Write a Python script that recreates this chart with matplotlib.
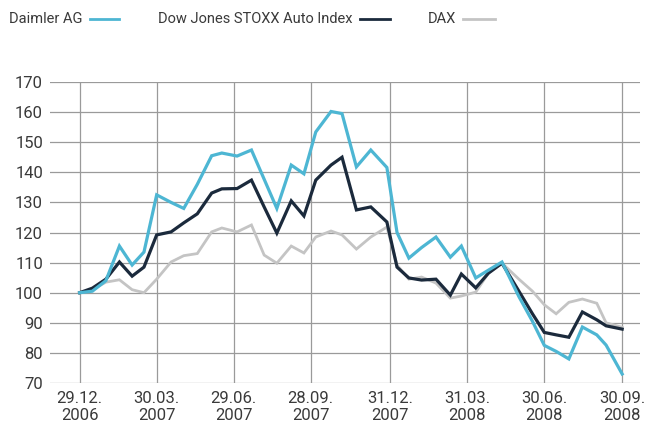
import matplotlib
matplotlib.use("Agg")
import matplotlib.pyplot as plt
from matplotlib.lines import Line2D
import pandas as pd

dates = ["2006-12-29", "2007-01-13", "2007-01-29", "2007-02-14", "2007-03-01",
         "2007-03-15", "2007-03-30", "2007-04-16", "2007-05-01", "2007-05-17",
         "2007-06-03", "2007-06-15", "2007-07-03", "2007-07-20", "2007-08-04",
         "2007-08-19", "2007-09-05", "2007-09-20", "2007-10-04", "2007-10-22",
         "2007-11-04", "2007-11-21", "2007-12-08", "2007-12-27", "2008-01-08",
         "2008-01-22", "2008-02-06", "2008-02-23", "2008-03-11", "2008-03-24",
         "2008-04-10", "2008-04-25", "2008-05-11", "2008-05-31", "2008-06-16",
         "2008-06-30", "2008-07-14", "2008-07-29", "2008-08-14", "2008-08-31",
         "2008-09-11", "2008-09-30"]

daimler = [100, 100.5, 104, 115.5, 109.2, 113.5, 132.5, 130, 128, 136,
           145.5, 146.4, 145.4, 147.4, 137.7, 128, 142.4, 139.5, 153.4, 160.2,
           159.5, 141.8, 147.4, 141.6, 120, 111.5, 115, 118.5, 111.8, 115.5,
           104.9, 107.5, 110.2, 98.7, 90.5, 82.5, 80.5, 78, 88.6, 86,
           82.6, 73]

stoxx = [100, 101.5, 104.5, 110.2, 105.5, 108.5, 119.2, 120.2, 123.2, 126.2,
         133.1, 134.5, 134.6, 137.4, 128.5, 119.8, 130.5, 125.5, 137.4, 142.4,
         145, 127.5, 128.5, 123.5, 108.5, 104.9, 104.2, 104.5, 99.2, 106.2,
         101.6, 106.5, 109.8, 100.5, 93, 86.8, 86, 85.2, 93.6, 91,
         89, 87.9]

dax = [100, 101, 103.5, 104.3, 101, 100, 104.5, 110.2, 112.3, 113,
       120.2, 121.5, 120.2, 122.5, 112.5, 109.8, 115.5, 113.2, 118.5, 120.5,
       119.2, 114.5, 118.5, 121.8, 109.2, 104.5, 105.2, 103.2, 98.2, 98.9,
       100.2, 106.5, 109.8, 104.5, 100.5, 96, 93, 96.8, 97.9, 96.5,
       90, 88.5]

tick_dates = ["2006-12-29", "2007-03-30", "2007-06-29", "2007-09-28",
              "2007-12-31", "2008-03-31", "2008-06-30", "2008-09-30"]
tick_labels = ["29.12.\n2006", "30.03.\n2007", "29.06.\n2007", "28.09.\n2007",
               "31.12.\n2007", "31.03.\n2008", "30.06.\n2008", "30.09.\n2008"]
y_ticks = [70, 80, 90, 100, 110, 120, 130, 140, 150, 160, 170]

c_daimler = "#4db6d3"
c_stoxx = "#1b2a3c"
c_dax = "#c4c4c4"
c_text = "#3a3a3a"
c_grid = "#9a9a9a"

x = pd.to_datetime(dates)
xt = pd.to_datetime(tick_dates)

plt.rcParams['font.family'] = ['Roboto', 'DejaVu Sans']

fig = plt.figure(figsize=(6.53, 4.32), dpi=100)
ax = fig.add_axes([0.0766, 0.1134, 0.9034, 0.6968])

ax.plot(x, dax, color=c_dax, lw=2.0, solid_joinstyle='miter', zorder=3)
ax.plot(x, stoxx, color=c_stoxx, lw=2.3, solid_joinstyle='miter', zorder=4)
ax.plot(x, daimler, color=c_daimler, lw=2.3, solid_joinstyle='miter', zorder=5)

ax.set_ylim(70, 170)
ax.set_xlim(pd.Timestamp("2006-11-24"), pd.Timestamp("2008-10-21"))
ax.set_yticks(y_ticks)
ax.set_xticks(xt)
ax.set_xticklabels(tick_labels)

ax.grid(True, color=c_grid, lw=0.9, zorder=1)
for s in ax.spines.values():
    s.set_visible(False)
ax.tick_params(length=0, labelsize=12, colors=c_text, pad=6)
ax.tick_params(axis='y', pad=5)
for lab in ax.get_xticklabels():
    lab.set_linespacing(1.15)

# legend row across the top
W, H = 653.0, 432.0
ty = 1 - 19 / H
fig.text(9 / W, ty, "Daimler AG", fontsize=10.5, color=c_text, va='center')
fig.add_artist(Line2D([90 / W, 119 / W], [ty, ty], color=c_daimler, lw=2))
fig.text(158 / W, ty, "Dow Jones STOXX Auto Index", fontsize=10.5, color=c_text, va='center')
fig.add_artist(Line2D([360 / W, 390 / W], [ty, ty], color=c_stoxx, lw=2))
fig.text(428 / W, ty, "DAX", fontsize=10.5, color=c_text, va='center')
fig.add_artist(Line2D([463 / W, 495 / W], [ty, ty], color=c_dax, lw=2))

fig.savefig("out.png", dpi=100)
